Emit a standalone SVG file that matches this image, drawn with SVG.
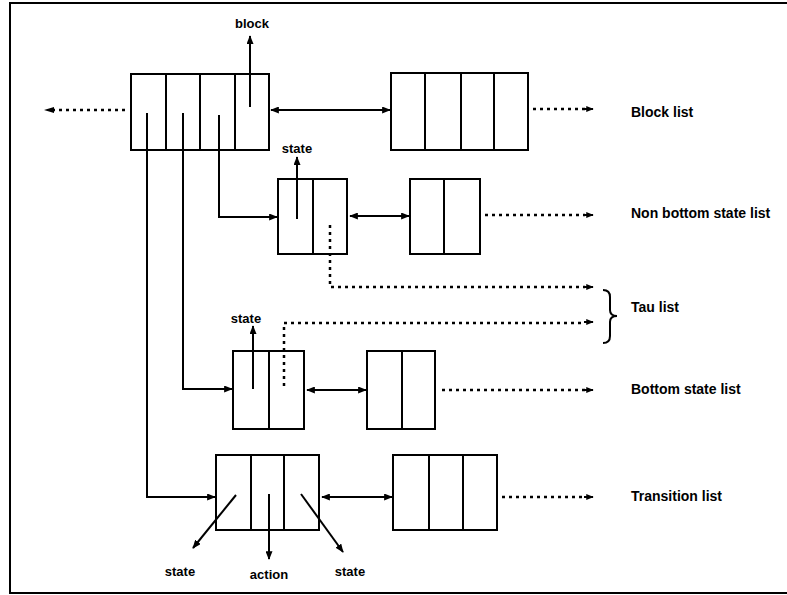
<svg xmlns="http://www.w3.org/2000/svg" width="787" height="595" viewBox="0 0 787 595">
<defs>
<style>
.box{fill:#fff;stroke:#000;stroke-width:2}
.div{stroke:#000;stroke-width:2}
.ln{fill:none;stroke:#000;stroke-width:2}
.dot{fill:none;stroke:#000;stroke-width:2.5;stroke-dasharray:3 4}
.lbl{font-family:"Liberation Sans",Arial,sans-serif;font-weight:bold;font-size:14px;fill:#000}
.sm{font-family:"Liberation Sans",Arial,sans-serif;font-weight:bold;font-size:13px;fill:#000;text-anchor:middle}
</style>
<marker id="ah" viewBox="0 0 10 8" refX="9" refY="4" markerWidth="9" markerHeight="7" markerUnits="userSpaceOnUse" orient="auto-start-reverse">
<path d="M0,0 L10,4 L0,8 z" fill="#000"/>
</marker>
<marker id="ad" viewBox="0 0 10 8" refX="9" refY="4" markerWidth="8" markerHeight="6" markerUnits="userSpaceOnUse" orient="auto-start-reverse">
<path d="M0,0 L10,4 L0,8 z" fill="#000"/>
</marker>
</defs>
<rect width="787" height="595" fill="#fff"/>
<g id="frame">
<path class="ln" d="M790,3 L10,3 L10,593 L790,593" stroke-width="2.5"/>
</g>
<g id="block1">
<rect class="box" x="131" y="74" width="138" height="76"/>
<line class="div" x1="166" y1="74" x2="166" y2="150"/>
<line class="div" x1="200" y1="74" x2="200" y2="150"/>
<line class="div" x1="235" y1="74" x2="235" y2="150"/>
</g>
<g id="block2">
<rect class="box" x="391" y="73" width="137" height="77"/>
<line class="div" x1="425" y1="73" x2="425" y2="150"/>
<line class="div" x1="461" y1="73" x2="461" y2="150"/>
<line class="div" x1="494" y1="73" x2="494" y2="150"/>
</g>
<g id="nbs1">
<rect class="box" x="278" y="179" width="69" height="75"/>
<line class="div" x1="313" y1="179" x2="313" y2="254"/>
</g>
<g id="nbs2">
<rect class="box" x="410" y="179" width="70" height="75"/>
<line class="div" x1="444" y1="179" x2="444" y2="254"/>
</g>
<g id="bs1">
<rect class="box" x="233" y="351" width="71" height="78"/>
<line class="div" x1="269" y1="351" x2="269" y2="429"/>
</g>
<g id="bs2">
<rect class="box" x="367" y="351" width="68" height="78"/>
<line class="div" x1="402" y1="351" x2="402" y2="429"/>
</g>
<g id="tr1">
<rect class="box" x="216" y="455" width="103" height="75"/>
<line class="div" x1="251" y1="455" x2="251" y2="530"/>
<line class="div" x1="284" y1="455" x2="284" y2="530"/>
</g>
<g id="tr2">
<rect class="box" x="393" y="455" width="104" height="75"/>
<line class="div" x1="429" y1="455" x2="429" y2="530"/>
<line class="div" x1="463" y1="455" x2="463" y2="530"/>
</g>
<g id="connectors">
<line class="dot" x1="52" y1="110" x2="127" y2="110"/>
<path d="M54,107 L44,110 L54,113 z" fill="#000"/>
<line class="ln" x1="250" y1="107" x2="250" y2="36" marker-end="url(#ah)"/>
<line class="ln" x1="271" y1="110" x2="390" y2="110" marker-start="url(#ah)" marker-end="url(#ah)"/>
<line class="dot" x1="533" y1="109" x2="585" y2="109"/>
<line class="ln" x1="584" y1="109" x2="593" y2="109" marker-end="url(#ad)"/>
<path class="ln" d="M219,115 L219,217 L277,217" marker-end="url(#ah)"/>
<path class="ln" d="M183,113 L183,389 L232,389" marker-end="url(#ah)"/>
<path class="ln" d="M147,113 L147,497 L215,497" marker-end="url(#ah)"/>
<line class="ln" x1="297" y1="219" x2="297" y2="157" marker-end="url(#ah)"/>
<line class="ln" x1="350" y1="216" x2="409" y2="216" marker-start="url(#ah)" marker-end="url(#ah)"/>
<line class="dot" x1="485" y1="215" x2="585" y2="215"/>
<line class="ln" x1="584" y1="215" x2="593" y2="215" marker-end="url(#ad)"/>
<path class="dot" d="M330,225 L330,287 L585,287"/>
<line class="ln" x1="584" y1="287" x2="593" y2="287" marker-end="url(#ad)"/>
<path class="dot" d="M284,386 L284,323 L585,323"/>
<line class="ln" x1="584" y1="322" x2="593" y2="322" marker-end="url(#ad)"/>
<path class="ln" d="M603,290 Q610,290 610,297 L610,310 Q610,316 617,316 Q610,316 610,322 L610,336 Q610,343 603,343" stroke-width="3"/>
<line class="ln" x1="253" y1="389" x2="253" y2="326" marker-end="url(#ah)"/>
<line class="ln" x1="307" y1="390" x2="366" y2="390" marker-start="url(#ah)" marker-end="url(#ah)"/>
<line class="dot" x1="442" y1="390" x2="585" y2="390"/>
<line class="ln" x1="584" y1="390" x2="593" y2="390" marker-end="url(#ad)"/>
<line class="ln" x1="236" y1="495" x2="193" y2="548" marker-end="url(#ah)"/>
<line class="ln" x1="269" y1="494" x2="269" y2="559" marker-end="url(#ah)"/>
<line class="ln" x1="301" y1="494" x2="343" y2="552" marker-end="url(#ah)"/>
<line class="ln" x1="322" y1="497" x2="392" y2="497" marker-start="url(#ah)" marker-end="url(#ah)"/>
<line class="dot" x1="502" y1="497" x2="585" y2="497"/>
<line class="ln" x1="584" y1="497" x2="593" y2="497" marker-end="url(#ad)"/>
</g>
<g id="labels">
<text class="sm" x="252" y="28">block</text>
<text class="sm" x="297" y="153">state</text>
<text class="sm" x="246" y="323">state</text>
<text class="sm" x="180" y="576">state</text>
<text class="sm" x="269" y="579">action</text>
<text class="sm" x="350" y="576">state</text>
<text class="lbl" x="631" y="117">Block list</text>
<text class="lbl" x="631" y="218">Non bottom state list</text>
<text class="lbl" x="631" y="312">Tau list</text>
<text class="lbl" x="631" y="394">Bottom state list</text>
<text class="lbl" x="631" y="501">Transition list</text>
</g>
</svg>
